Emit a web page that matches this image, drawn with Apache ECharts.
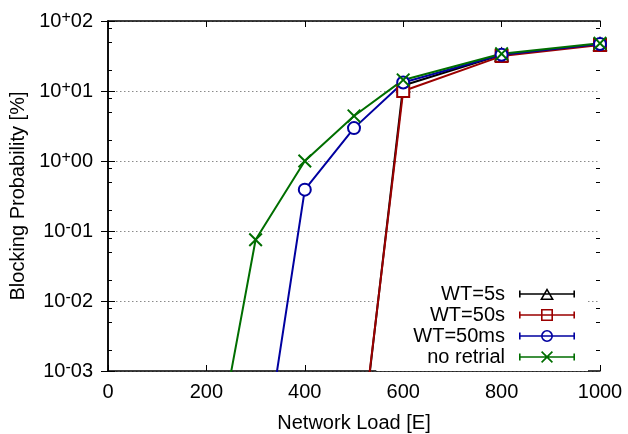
<!DOCTYPE html>
<html>
<head>
<meta charset="utf-8">
<script src="https://cdn.jsdelivr.net/npm/echarts@6/dist/echarts.min.js"></script>
<style>html,body{margin:0;padding:0;background:#fff}#c{width:628px;height:434px}</style>
</head>
<body>
<div id="c"></div>
<script>
// ---- data ----
const loads      = [200, 300, 400, 500, 600, 800, 1000];
const wt5s       = [null, null, null, 1.1e-5, 12.0, 33.0, 46.5];
const wt50s      = [null, null, null, 1.3e-5, 10.0, 31.5, 45.5];
const wt50ms     = [null, 1.0e-5, 0.39, 2.95, 13.2, 33.0, 47.0];
const noRetrial  = [1.2e-5, 0.075, 1.0, 4.4, 14.4, 34.0, 48.0];
const seriesNames = ['WT=5s', 'WT=50s', 'WT=50ms', 'no retrial'];
const xTicks = [0, 200, 400, 600, 800, 1000];
const yDecades = [0.001, 0.01, 0.1, 1, 10, 100];
const minorMult = [2, 5, 8];

const minorTickValues = [];
yDecades.slice(0, -1).forEach(d => minorMult.forEach(m => minorTickValues.push(d * m)));

function pairs(vals) {
  const out = [];
  vals.forEach((v, i) => { if (v !== null) out.push([loads[i], v]); });
  return out;
}

const FONT = "'Liberation Sans', Arial, sans-serif";
const colors = ['#000000', '#9b0000', '#0000a0', '#006e00'];
const symbols = ['emptyTriangle', 'emptyRect', 'emptyCircle',
  'path://M0,1L1,0L5,4L9,0L10,1L6,5L10,9L9,10L5,6L1,10L0,9L4,5Z'];
const dataSets = [wt5s, wt50s, wt50ms, noRetrial];

// legend icons: error-bar style line with end caps + marker outline (56 x 12 box)
const barPart = 'M0,5.2H56V6.8H0Z M0,2.5H1.6V9.5H0Z M54.4,2.5H56V9.5H54.4Z ';
const legendMarks = [
  'M28,0L35,12L21,12Z M28,3.1L23.7,10.6L32.3,10.6Z',
  'M22,0H34V12H22Z M23.6,1.6V10.4H32.4V1.6Z',
  'M22,6A6,6 0 1,1 34,6A6,6 0 1,1 22,6Z M23.6,6A4.4,4.4 0 1,0 32.4,6A4.4,4.4 0 1,0 23.6,6Z',
  'M22,1.2L23.2,0L28,4.8L32.8,0L34,1.2L29.2,6L34,10.8L32.8,12L28,7.2L23.2,12L22,10.8L26.8,6Z'
];

function yLabel(v) {
  const e = Math.round(Math.log10(v));
  const s = e >= 0 ? '+' : '-';
  const a = Math.abs(e);
  return '10{s|' + s + '}' + (a < 10 ? '0' + a : '' + a);
}

const axisLine = { show: true, lineStyle: { color: '#000', width: 1.5 } };
const logBase = { type: 'log', logBase: 10, min: 0.001, max: 100 };

const chart = echarts.init(document.getElementById('c'), null, { renderer: 'canvas' });
chart.setOption({
  animation: false,
  backgroundColor: '#fff',
  textStyle: { fontFamily: FONT },
  grid: { left: 108, right: 28, top: 21, bottom: 63, containLabel: false, outerBoundsMode: 'none' },
  xAxis: [
    {
      type: 'value', min: 0, max: 1000, interval: 200, position: 'bottom',
      name: 'Network Load [E]', nameLocation: 'middle', nameGap: 42,
      nameTextStyle: { fontSize: 20, color: '#000', fontFamily: FONT },
      axisLine: axisLine,
      axisTick: { show: true, inside: true, length: 6, lineStyle: { color: '#000', width: 1 } },
      axisLabel: { show: true, margin: 11, fontSize: 20, color: '#000', fontFamily: FONT,
        formatter: v => String(v) },
      splitLine: { show: false }
    },
    {
      type: 'value', min: 0, max: 1000, interval: 200, position: 'top',
      axisLine: axisLine,
      axisTick: { show: true, inside: true, length: 6, lineStyle: { color: '#000', width: 1 } },
      axisLabel: { show: false }, splitLine: { show: false }
    }
  ],
  yAxis: [
    Object.assign({}, logBase, {
      position: 'left',
      name: 'Blocking Probability [%]', nameLocation: 'middle', nameGap: 77, nameRotate: 90,
      nameTextStyle: { fontSize: 20, color: '#000', fontFamily: FONT },
      axisLine: axisLine,
      axisTick: { show: true, inside: true, length: 7, lineStyle: { color: '#000', width: 1 } },
      axisLabel: {
        show: true, margin: 15, color: '#000', fontSize: 20, fontFamily: FONT,
        formatter: yLabel,
        rich: { s: { fontSize: 16, fontFamily: FONT, color: '#000', verticalAlign: 'bottom', padding: [0, 0, 7, 0] } }
      },
      splitLine: { show: true, lineStyle: { color: '#8a8a8a', type: [1.5, 2.5], width: 1 } }
    }),
    Object.assign({}, logBase, {
      position: 'right',
      axisLine: axisLine,
      axisTick: { show: true, inside: true, length: 7, lineStyle: { color: '#000', width: 1 } },
      axisLabel: { show: false }, splitLine: { show: false }
    }),
    Object.assign({}, logBase, {
      position: 'left',
      axisLine: { show: false },
      axisTick: { show: true, inside: true, length: 4, customValues: minorTickValues, lineStyle: { color: '#000', width: 1 } },
      axisLabel: { show: false }, splitLine: { show: false }
    }),
    Object.assign({}, logBase, {
      position: 'right',
      axisLine: { show: false },
      axisTick: { show: true, inside: true, length: 4, customValues: minorTickValues, lineStyle: { color: '#000', width: 1 } },
      axisLabel: { show: false }, splitLine: { show: false }
    })
  ],
  legend: {
    z: 1,
    orient: 'vertical', right: 40, top: 280, align: 'right',
    backgroundColor: '#fff',
    padding: [4, 13, 4, 37],
    itemWidth: 56, itemHeight: 12, itemGap: 1,
    itemStyle: { borderWidth: 0 },
    textStyle: { fontSize: 20, color: '#000', fontFamily: FONT, lineHeight: 20, padding: [0, 9, 0, 0] },
    data: seriesNames.map((n, i) => ({ name: n, icon: 'path://' + barPart + legendMarks[i] }))
  },
  series: seriesNames.map((n, i) => ({
    name: n, type: 'line', xAxisIndex: 0, yAxisIndex: 0,
    data: pairs(dataSets[i]),
    clip: true,
    symbol: symbols[i], symbolSize: i === 3 ? 14 : 12,
    showAllSymbol: true,
    lineStyle: { color: colors[i], width: 2 },
    itemStyle: { color: colors[i], borderColor: colors[i], borderWidth: i === 3 ? 0 : 1.6 },
    emphasis: { disabled: true }
  }))
});
</script>
</body>
</html>
